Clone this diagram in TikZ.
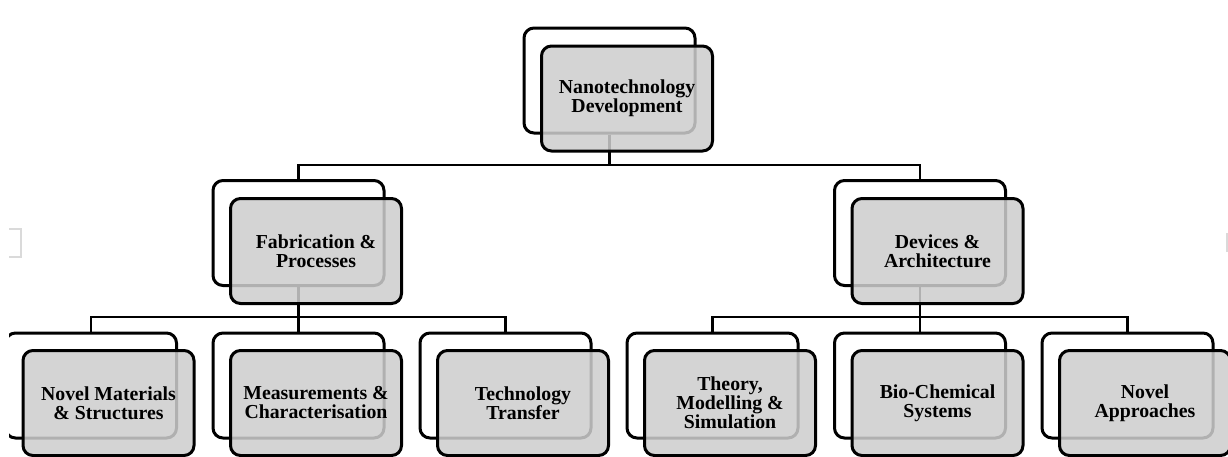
\documentclass[tikz,border=0pt]{standalone}
\usepackage{fontspec}
\setmainfont{Liberation Serif}
\definecolor{boxgray}{RGB}{205,205,205}
\definecolor{faintgray}{RGB}{218,218,218}
\begin{document}
\begin{tikzpicture}[x=1pt,y=-1pt,
  boxbase/.style={draw=black, line width=3pt, rounded corners=10pt,
    minimum width=171pt, minimum height=105pt, inner sep=0pt},
  backbox/.style={boxbase, fill=white},
  frontbox/.style={boxbase, fill=boxgray, fill opacity=0.86, text opacity=1,
    align=center, font=\bfseries\fontsize{19.8}{19}\selectfont},
  link/.style={draw=black, line width=2.8pt}]
\useasboundingbox (0,0) rectangle (1228,456);
\clip (9,0) rectangle (1228,456);

% rear outlines of each card
\node[backbox] (topb) at (609.5,80.5) {};
\node[backbox] (fabb) at (298.5,233) {};
\node[backbox] (devb) at (920,233) {};
\node[backbox] (nmsb) at (91,385.5) {};
\node[backbox] (mcb)  at (298.5,385.5) {};
\node[backbox] (ttb)  at (505.5,385.5) {};
\node[backbox] (tmsb) at (712.5,385.5) {};
\node[backbox] (bcsb) at (920,385.5) {};
\node[backbox] (nab)  at (1127.5,385.5) {};

% tree connectors between the rear outlines
\coordinate (busA) at (0,165);
\coordinate (busB) at (0,317);
\draw[link] (topb.south) -- (topb.south |- busA) -| (fabb.north);
\draw[link] (topb.south |- busA) -| (devb.north);
\draw[link] (fabb.south) -- (fabb.south |- busB) -| (nmsb.north);
\draw[link] (fabb.south |- busB) -| (ttb.north);
\draw[link] (fabb.south |- busB) -- (mcb.north);
\draw[link] (devb.south) -- (devb.south |- busB) -| (tmsb.north);
\draw[link] (devb.south |- busB) -| (nab.north);
\draw[link] (devb.south |- busB) -- (bcsb.north);

% shaded front cards carrying the labels
\node[frontbox] (topf) at (627,98.5) {Nanotechnology\\Development};
\node[frontbox] (fabf) at (316,251) {Fabrication \&\\Processes};
\node[frontbox] (devf) at (937.5,251) {Devices \&\\Architecture};
\node[frontbox] (nmsf) at (108.5,403) {Novel Materials\\\& Structures};
\node[frontbox] (mcf)  at (316,403) {Measurements \&\\Characterisation};
\node[frontbox] (ttf)  at (523,403) {Technology\\Transfer};
\node[frontbox] (tmsf) at (730,403) {Theory,\\Modelling \&\\Simulation};
\node[frontbox] (bcsf) at (937.5,403) {Bio-Chemical\\Systems};
\node[frontbox] (naf)  at (1145,403) {Novel\\Approaches};

% faint edge marks
\draw[faintgray, line width=1.2pt] (9,229) -- (21,229) -- (21,257) -- (9,257);
\draw[faintgray, line width=1.2pt] (1227,233) -- (1227,252);
\end{tikzpicture}
\end{document}
